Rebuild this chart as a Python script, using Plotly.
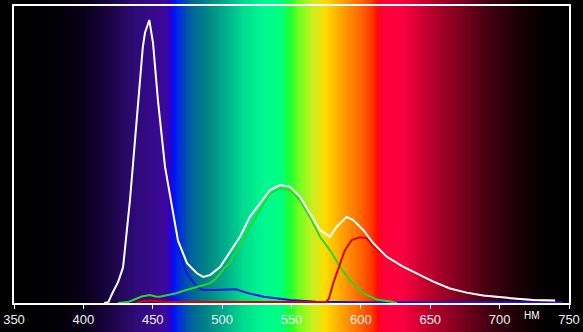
import numpy as np
import plotly.graph_objects as go

# ---- data (wavelength nm, relative intensity %) ----
white_nm = [415, 418, 421, 425, 428.6, 431, 433.6, 436, 438.6, 442.8, 444.4, 447.5, 450.2, 453.8,
            458.8, 463.8, 468.2, 474.7, 481.8, 486.4, 491.3, 498.5, 505.7, 512.9, 520, 527.3,
            534.5, 541.7, 548.9, 556, 563.3, 570.5, 577.7, 582.6, 589.8, 594.5, 601.7, 609,
            618.6, 630.6, 640.2, 652.2, 664.2, 676.2, 688.2, 700.3, 712.3, 724.3, 740]
white_val = [0, 0.3, 3.4, 7, 12, 22, 34.7, 48, 62.6, 86, 91, 95.3, 87.5, 68,
             46, 32.3, 21, 13.4, 10, 8.8, 9.4, 12.1, 17.3, 22.3, 29, 33.6,
             38, 39.7, 39.2, 35.8, 30.3, 24.6, 22.3, 25.7, 29, 27.9, 24.6, 20.1,
             15.6, 12.2, 10, 7.2, 4.9, 3.5, 2.5, 1.9, 1.45, 1.0, 0.8]

blue_nm = [415, 418, 421, 425, 428.6, 431, 433.6, 436, 438.6, 442.8, 444.4, 447.5, 450.2, 453.8,
           458.8, 463.8, 467, 470, 474.5, 481.7, 486, 495, 505, 510, 518, 530, 549, 568, 600, 745]
blue_val = [0, 0.3, 3.4, 7, 12, 22, 34.7, 48, 62.6, 86, 91, 95.3, 87.5, 68,
            46, 32.3, 20, 16, 10, 5.5, 4.4, 4.4, 4.5, 4.6, 3.4, 2.1, 1.0, 0.4, 0.25, 0.25]

green_nm = [425, 432, 436, 442, 448, 452, 455, 461, 467, 473, 479, 485, 491, 495, 498.5, 502,
            505.7, 508, 513, 520, 527.3, 534.5, 541.7, 549, 556, 563.3, 570.5, 577.7, 585,
            592, 601.7, 611.4, 621, 626]
green_val = [0, 0.3, 1, 2.2, 2.7, 2.2, 2.1, 2.6, 3.3, 4.2, 4.9, 5.8, 6.6, 8, 10, 12,
             13.4, 16, 19, 25.7, 31.3, 37, 38.6, 38, 34.7, 29, 22.3, 17.8, 12.2,
             7.7, 3.3, 1.2, 0.5, 0]

red_nm = [438, 442, 448, 455, 460, 575, 577, 580, 585, 588.5, 593.4, 599.4, 604.2, 609,
          618.6, 630.6, 640.2, 652.2, 664.2, 676.2, 688.2, 700.3, 712.3, 724.3, 740]
red_val = [0, 0.6, 0.8, 0.5, 0.3, 0.3, 1.5, 6.6, 13.4, 17.8, 21.2, 22.1, 21.8, 19,
           15.6, 12.2, 10, 7.2, 4.9, 3.5, 2.5, 1.9, 1.45, 1.0, 0.8]

tick_vals = [350, 400, 450, 500, 550, 600, 650, 700, 750]
tick_text = ["350", "400", "450", "500", "550", "600", "650", "700", "750"]

# ---- decorative spectrum background ----
W, H = 583, 332
px_left, px_right, px_top, px_bottom = 14, 569, 6, 303
nm_per_px = 400.0 / (px_right - px_left)
bg_min = 350 - px_left * nm_per_px
bg_max = 350 + (W - px_left) * nm_per_px

stops = [
    (bg_min, "#000000"), (368, "#000000"), (385, "#02010a"), (400, "#080018"),
    (418, "#1a0540"), (438, "#2e0a78"), (458, "#3c0898"), (462, "#3000c0"),
    (465, "#0010ff"), (469, "#0030d8"), (477, "#00609a"), (490, "#008884"),
    (503, "#00b08c"), (515, "#00dc8c"), (530, "#00f890"), (542, "#00ff80"),
    (549, "#20ff30"), (555, "#70ff20"), (565, "#c8f020"), (574, "#ffdc00"),
    (580, "#ffc000"), (590, "#ff9000"), (600, "#ff6400"), (608, "#ff3400"),
    (612, "#ff0808"), (615, "#ff0038"), (630, "#fa0040"), (645, "#c80030"),
    (670, "#800020"), (693, "#400010"), (716, "#150005"), (735, "#000000"),
    (bg_max, "#000000"),
]
cs = [[(s - bg_min) / (bg_max - bg_min), c] for s, c in stops]
bg_x = np.arange(339.0, 762.0, 0.5)

fig = go.Figure()
fig.add_trace(go.Heatmap(x=bg_x, y=[0, 1], z=[bg_x, bg_x], colorscale=cs,
                         zmin=bg_min, zmax=bg_max, showscale=False, zsmooth="best",
                         hoverinfo="skip", xaxis="x", yaxis="y"))

for nm, val, col in [(blue_nm, blue_val, "#1414e6"), (green_nm, green_val, "#28d828"),
                     (red_nm, red_val, "#e00000"), (white_nm, white_val, "#ffffff")]:
    fig.add_trace(go.Scatter(x=nm, y=val, mode="lines", line=dict(color=col, width=2),
                             xaxis="x2", yaxis="y2", hoverinfo="skip"))

fig.update_layout(
    width=W, height=H, margin=dict(l=0, r=0, t=0, b=0, autoexpand=False),
    paper_bgcolor="#000000", plot_bgcolor="rgba(0,0,0,0)", showlegend=False,
    xaxis=dict(domain=[0, 1], range=[bg_min, bg_max], visible=False, fixedrange=True,
               automargin=False),
    yaxis=dict(domain=[0, 1], range=[0, 1], visible=False, fixedrange=True, automargin=False),
    xaxis2=dict(domain=[px_left / W, px_right / W], anchor="y2", range=[350, 750],
                tickvals=tick_vals, ticktext=tick_text, ticks="outside", ticklen=4,
                tickcolor="#ffffff", tickwidth=1, showline=True, linecolor="#ffffff",
                linewidth=1.5, mirror=True, showgrid=False, zeroline=False, automargin=False,
                tickfont=dict(family="Liberation Sans, Arial", size=13, color="#f0f0f0")),
    yaxis2=dict(domain=[(H - px_bottom) / H, (H - px_top) / H], anchor="x2", range=[0, 100],
                showline=True, linecolor="#ffffff", linewidth=1.5, mirror=True, automargin=False,
                showticklabels=False, ticks="", showgrid=False, zeroline=False),
    annotations=[dict(text="НМ", x=532 / W, y=(H - 315) / H, xref="paper", yref="paper",
                      showarrow=False, xanchor="center", yanchor="middle",
                      font=dict(family="Liberation Sans, Arial", size=10, color="#ffffff"))],
)

fig.write_html("out.html")
